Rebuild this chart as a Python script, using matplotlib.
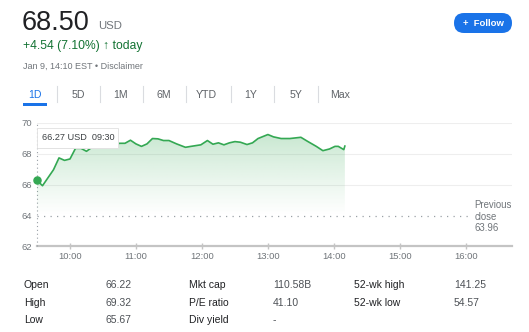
import matplotlib
matplotlib.use("Agg")
import matplotlib.pyplot as plt
import numpy as np
from matplotlib.patches import Rectangle, FancyBboxPatch, Polygon
from matplotlib.colors import to_rgb

plt.rcParams['font.family'] = ['Liberation Sans', 'DejaVu Sans']

# intraday prices (EST)
times = ["09:30", "09:35", "09:45", "09:50", "09:55", "10:00", "10:05", "10:10", "10:15",
         "10:20", "10:25", "10:30", "10:35", "10:40", "10:45", "10:50", "10:55", "11:00",
         "11:05", "11:10", "11:15", "11:20", "11:25", "11:30", "11:37", "11:45", "11:50",
         "11:59", "12:05", "12:10", "12:15", "12:20", "12:25", "12:30", "12:35", "12:41",
         "12:46", "12:51", "13:00", "13:05", "13:12", "13:20", "13:30", "13:36", "13:44",
         "13:50", "13:56", "14:01", "14:04", "14:09", "14:10"]
prices = [66.27, 65.92, 66.96, 67.73, 67.57, 67.66, 68.35, 68.35, 68.16,
          68.42, 68.44, 68.47, 68.50, 68.55, 68.68, 68.68, 68.88, 68.64,
          68.48, 68.64, 68.99, 68.97, 68.86, 68.86, 68.64, 68.42, 68.48,
          68.58, 68.86, 68.62, 68.71, 68.58, 68.71, 68.79, 68.75, 68.60,
          68.71, 68.99, 69.25, 69.10, 68.99, 68.99, 69.07, 68.81, 68.48,
          68.20, 68.31, 68.48, 68.48, 68.27, 68.50]
prev_close = 63.96
hour_labels = ["10:00", "11:00", "12:00", "13:00", "14:00", "15:00", "16:00"]
y_ticks = [62, 64, 66, 68, 70]

tabs = ["1D", "5D", "1M", "6M", "YTD", "1Y", "5Y", "Max"]
stats_labels = [["Open", "High", "Low"], ["Mkt cap", "P/E ratio", "Div yield"], ["52-wk high", "52-wk low"]]
stats_values = [["66.22", "69.32", "65.67"], ["110.58B", "41.10", "-"], ["141.25", "54.57"]]


def to_min(s):
    h, m = s.split(":")
    return int(h) * 60 + int(m)


mins = np.array([to_min(t) for t in times])
vals = np.array(prices)
hour_pos = [to_min(t) for t in hour_labels]

W, H = 529, 332
fig = plt.figure(figsize=(W / 100, H / 100), dpi=100)


def fx(x):
    return x / W


def fy(y):
    return 1 - y / H


GREEN = "#34a853"
GRAY = "#70757a"
DARK = "#202124"
BLUE = "#1a73e8"

# header
fig.text(fx(22), fy(29.5), "68.50", fontsize=19.5, color=DARK, va="baseline")
fig.text(fx(98), fy(29), "USD", fontsize=8.2, color=GRAY, va="baseline")
fig.text(fx(23), fy(49.5), "+4.54 (7.10%) \u2191 today", fontsize=8.7, color="#137333", va="baseline")
fig.text(fx(23), fy(68.5), "Jan 9, 14:10 EST \u2022 Disclaimer", fontsize=6.5, color=GRAY, va="baseline")

# follow button
btn = FancyBboxPatch((454 / 100, (H - 33) / 100), 58 / 100, 20 / 100,
                     boxstyle="round,pad=0,rounding_size=0.1", transform=fig.dpi_scale_trans,
                     fc=BLUE, ec="none")
fig.add_artist(btn)
fig.text(fx(483), fy(23), "+  Follow", fontsize=6.8, color="white", fontweight="bold",
         ha="center", va="center")

# range tabs
tab_x = [35, 78, 121, 164, 206, 251, 296, 340]
sep_x = [57, 100, 143, 186, 231, 274, 318]
for t, x in zip(tabs, tab_x):
    fig.text(fx(x), fy(94.5), t, fontsize=7.6, color=BLUE if t == "1D" else "#5f6368",
             ha="center", va="center")
for x in sep_x:
    fig.add_artist(plt.Line2D([fx(x), fx(x)], [fy(86), fy(102)], color="#dadce0", lw=0.8))
fig.add_artist(Rectangle((fx(23), fy(106)), 24 / W, 3 / H, fc=BLUE, ec="none"))

# chart
ax = fig.add_axes([fx(37), fy(246), (512 - 37) / W, (246 - 123) / H])
x0, x1 = 570, 1002
ax.set_xlim(x0, x1)
ax.set_ylim(62, 70)
for s in ["top", "right", "left", "bottom"]:
    ax.spines[s].set_visible(False)

for g in [66, 68, 70]:
    ax.axhline(g, color="#eeeeee", lw=0.8, zorder=0)
ax.axhline(62, color="#c4c4c4", lw=1.6, zorder=1, clip_on=False)

# gradient fill under the price line
base = prev_close
poly = Polygon(np.column_stack([np.r_[mins, mins[-1], mins[0]], np.r_[vals, base, base]]),
               closed=True, fc="none", ec="none", transform=ax.transData)
ax.add_patch(poly)
top = vals.max()
n = 200
grad = np.zeros((n, 1, 4))
grad[:, 0, :3] = to_rgb(GREEN)
grad[:, 0, 3] = np.linspace(0.3, 0.0, n) ** 1.1
img = ax.imshow(grad, extent=[mins[0], mins[-1], base, top], aspect="auto",
                origin="upper", zorder=2, interpolation="bilinear")
img.set_clip_path(poly)

ax.plot(mins, vals, color=GREEN, lw=1.2, zorder=3, solid_joinstyle="round")
ax.scatter([mins[0]], [vals[0]], s=26, color=GREEN, zorder=4, clip_on=False)

# previous close
ax.plot([x0, 965], [prev_close, prev_close], color="#9aa0a6", lw=0.9,
        linestyle=(0, (1, 4.2)), zorder=1)
ax.text(968, prev_close - 0.05, "Previous\nclose\n63.96", fontsize=6.9, color=GRAY,
        va="center", ha="left", linespacing=1.15)

# hover marker
ax.plot([x0, x0], [62, 70], color="#9aa0a6", lw=0.8, linestyle=(0, (1, 2.5)),
        zorder=1, clip_on=False)

ax.set_yticks(y_ticks)
ax.set_yticklabels([str(v) for v in y_ticks])
ax.set_xticks(hour_pos)
ax.set_xticklabels(hour_labels)
ax.tick_params(axis="y", length=0, pad=3.5, labelsize=6.8, labelcolor=GRAY)
ax.tick_params(axis="x", direction="inout", length=5, width=1, color="#c4c4c4",
               pad=2, labelsize=6.8, labelcolor=GRAY)

# tooltip
fig.add_artist(Rectangle((fx(38), fy(149)), 81 / W, 20 / H, fc="#e6e6e6", ec="none", zorder=5))
fig.add_artist(Rectangle((fx(37), fy(148)), 81 / W, 20 / H, fc="white", ec="#e0e0e0",
                         lw=0.6, zorder=6))
fig.text(fx(42), fy(137.5), "66.27 USD  09:30", fontsize=6.6, color="#3c4043",
         va="center", zorder=7)

# key stats
col_x = [(24, 105), (189, 273), (354, 454)]
row_y = [285, 302.5, 320]
for (lx, vx), labs, vs in zip(col_x, stats_labels, stats_values):
    for y, lab, v in zip(row_y, labs, vs):
        fig.text(fx(lx), fy(y), lab, fontsize=7.5, color=DARK, va="center")
        fig.text(fx(vx), fy(y), v, fontsize=7.5, color="#4d5156", va="center")

fig.savefig("out.png", dpi=100)
